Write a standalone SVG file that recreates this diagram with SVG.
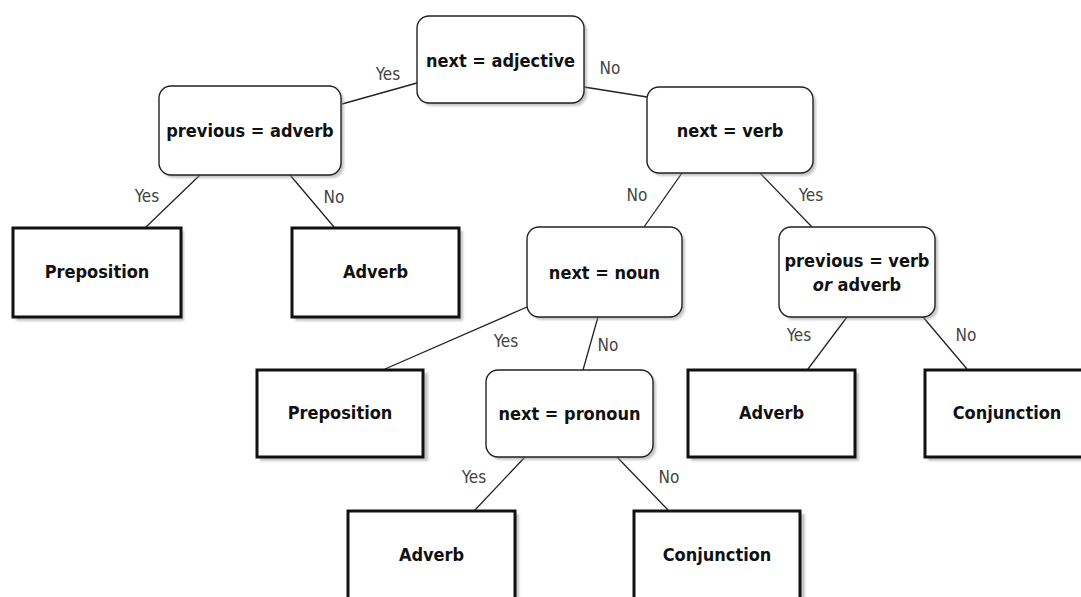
<svg xmlns="http://www.w3.org/2000/svg" width="1081" height="597" viewBox="0 0 1081 597">
<style>
.dec{fill:#fff;stroke:#222;stroke-width:1.4}
.leaf{fill:#fff;stroke:#111;stroke-width:3}
.sh{fill:#999;opacity:0.55;filter:url(#blur)}
.t{font-family:"DejaVu Sans Condensed","DejaVu Sans",sans-serif;font-stretch:condensed;font-weight:bold;font-size:18px;fill:#111;text-anchor:middle}
.lbl{font-family:"DejaVu Sans Condensed","DejaVu Sans",sans-serif;font-stretch:condensed;font-size:17px;fill:#444;text-anchor:middle}
.c{stroke:#222;stroke-width:1.3;fill:none}
</style>
<defs>
<filter id="blur" x="-10%" y="-10%" width="120%" height="120%"><feGaussianBlur stdDeviation="1.2"/></filter>
</defs>
<rect width="1081" height="597" fill="#fff"/>
<g id="connectors">
<line class="c" x1="417" y1="83" x2="342" y2="104"/>
<line class="c" x1="584" y1="87" x2="647" y2="97"/>
<line class="c" x1="200" y1="175" x2="146" y2="227"/>
<line class="c" x1="290" y1="175" x2="334" y2="227"/>
<line class="c" x1="682" y1="173" x2="644" y2="227"/>
<line class="c" x1="760" y1="173" x2="812" y2="227"/>
<line class="c" x1="527" y1="307" x2="385" y2="369"/>
<line class="c" x1="598" y1="317" x2="583" y2="370"/>
<line class="c" x1="525" y1="457" x2="475" y2="510"/>
<line class="c" x1="617" y1="457" x2="668" y2="510"/>
<line class="c" x1="847" y1="317" x2="808" y2="369"/>
<line class="c" x1="923" y1="317" x2="967" y2="369"/>
<text class="lbl" x="388" y="80">Yes</text>
<text class="lbl" x="610" y="74">No</text>
<text class="lbl" x="147" y="202">Yes</text>
<text class="lbl" x="334" y="203">No</text>
<text class="lbl" x="637" y="201">No</text>
<text class="lbl" x="811" y="201">Yes</text>
<text class="lbl" x="506" y="347">Yes</text>
<text class="lbl" x="608" y="351">No</text>
<text class="lbl" x="474" y="483">Yes</text>
<text class="lbl" x="669" y="483">No</text>
<text class="lbl" x="799" y="341">Yes</text>
<text class="lbl" x="966" y="341">No</text>
</g>
<g id="n-adjective">
<rect class="sh" x="420" y="19" width="167" height="87" rx="12"/>
<rect class="dec" x="417" y="16" width="167" height="87" rx="12"/>
<text class="t" x="500.5" y="67">next = adjective</text>
</g>
<g id="n-prev-adverb">
<rect class="sh" x="162" y="89" width="182" height="89" rx="12"/>
<rect class="dec" x="159" y="86" width="182" height="89" rx="12"/>
<text class="t" x="250" y="137">previous = adverb</text>
</g>
<g id="n-verb">
<rect class="sh" x="650" y="90" width="166" height="86" rx="12"/>
<rect class="dec" x="647" y="87" width="166" height="86" rx="12"/>
<text class="t" x="730" y="137">next = verb</text>
</g>
<g id="n-noun">
<rect class="sh" x="530" y="230" width="155" height="90" rx="12"/>
<rect class="dec" x="527" y="227" width="155" height="90" rx="12"/>
<text class="t" x="604.5" y="279">next = noun</text>
</g>
<g id="n-prev-verb">
<rect class="sh" x="782" y="230" width="156" height="90" rx="12"/>
<rect class="dec" x="779" y="227" width="156" height="90" rx="12"/>
<text class="t" x="857" y="267">previous = verb</text>
<text class="t" x="857" y="291"><tspan font-style="italic">or</tspan> adverb</text>
</g>
<g id="n-pronoun">
<rect class="sh" x="489" y="373" width="167" height="87" rx="12"/>
<rect class="dec" x="486" y="370" width="167" height="87" rx="12"/>
<text class="t" x="569.5" y="420">next = pronoun</text>
</g>
<g id="l-prep1">
<rect class="sh" x="16" y="231" width="168" height="90"/>
<rect class="leaf" x="13" y="228" width="168" height="89"/>
<text class="t" x="97" y="278">Preposition</text>
</g>
<g id="l-adverb1">
<rect class="sh" x="295" y="231" width="168" height="90"/>
<rect class="leaf" x="292" y="228" width="167" height="89"/>
<text class="t" x="375.5" y="278">Adverb</text>
</g>
<g id="l-prep2">
<rect class="sh" x="260" y="373" width="168" height="88"/>
<rect class="leaf" x="257" y="370" width="166" height="87"/>
<text class="t" x="340" y="419">Preposition</text>
</g>
<g id="l-adverb2">
<rect class="sh" x="691" y="373" width="168" height="88"/>
<rect class="leaf" x="688" y="370" width="167" height="87"/>
<text class="t" x="771.5" y="419">Adverb</text>
</g>
<g id="l-conj2">
<rect class="sh" x="928" y="373" width="168" height="88"/>
<rect class="leaf" x="925" y="370" width="168" height="87"/>
<text class="t" x="1007" y="419">Conjunction</text>
</g>
<g id="l-adverb3">
<rect class="sh" x="351" y="514" width="168" height="100"/>
<rect class="leaf" x="348" y="511" width="167" height="100"/>
<text class="t" x="431.5" y="561">Adverb</text>
</g>
<g id="l-conj3">
<rect class="sh" x="637" y="514" width="168" height="100"/>
<rect class="leaf" x="634" y="511" width="166" height="100"/>
<text class="t" x="717" y="561">Conjunction</text>
</g>
</svg>
